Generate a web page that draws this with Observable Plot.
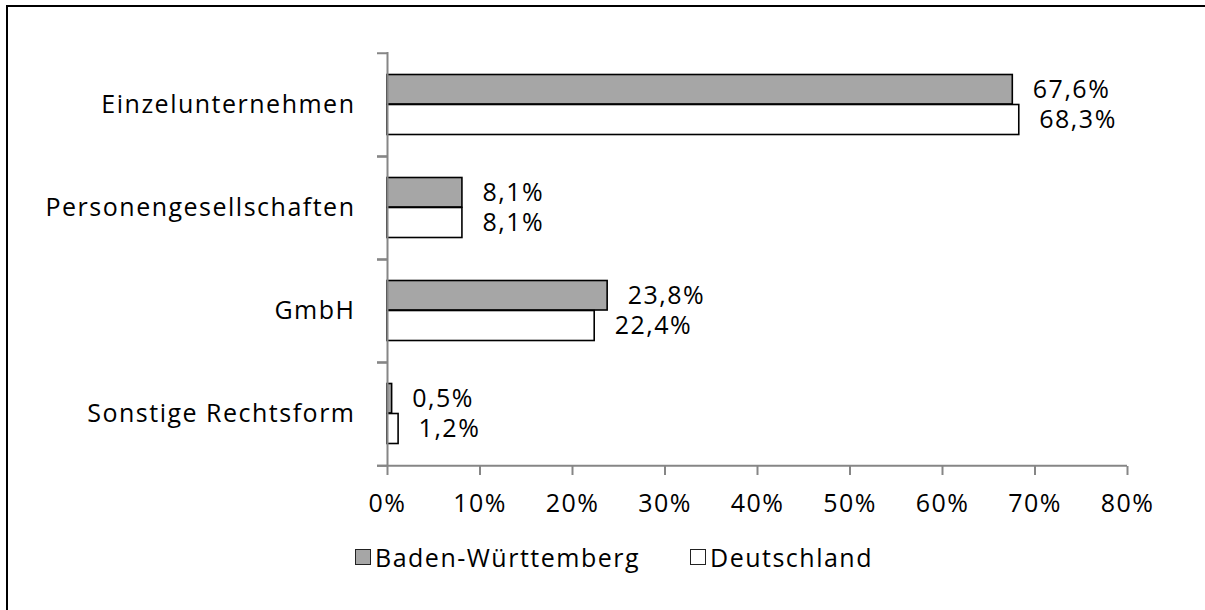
<!DOCTYPE html>
<html><head><meta charset="utf-8">
<script src="https://cdn.jsdelivr.net/npm/d3@7"></script>
<script src="https://cdn.jsdelivr.net/npm/@observablehq/plot@0.6"></script>
<style>
html,body{margin:0;background:#fff;font-family:"Open Sans",sans-serif;overflow:hidden;}
#wrap{position:relative;width:1205px;height:610px;overflow:hidden;background:#fff;}
#border{position:absolute;left:6px;top:5px;width:1300px;height:700px;border-left:2px solid #000;border-top:2px solid #000;}
#chart{position:absolute;left:0;top:0;}
#legend{position:absolute;top:542px;left:355px;display:flex;align-items:center;font-size:25px;letter-spacing:1.5px;line-height:30px;color:#000;font-weight:500;}
.item{display:flex;align-items:center;margin-right:50px;}
.sw{width:14px;height:14px;border:1.5px solid #222;margin-right:4px;box-sizing:content-box;}
</style></head>
<body><div id="wrap"><div id="border"></div><div id="chart"></div><div id="legend"></div></div>
<script>
const categories = ["Einzelunternehmen", "Personengesellschaften", "GmbH", "Sonstige Rechtsform"];
const series = ["Baden-Württemberg", "Deutschland"];
const bwValues = [67.6, 8.1, 23.8, 0.5];
const deValues = [68.3, 8.1, 22.4, 1.2];
const xTicks = [0, 10, 20, 30, 40, 50, 60, 70, 80];
const colors = ["#a6a6a6", "#ffffff"];

const bw = categories.map((c, i) => ({category: c, series: series[0], value: bwValues[i]}));
const de = categories.map((c, i) => ({category: c, series: series[1], value: deValues[i]}));
const fmt = v => v.toFixed(1).replace(".", ",") + "%";
const axisColor = "#868686";

const plot = Plot.plot({
  width: 1205,
  height: 520,
  marginTop: 52,
  marginBottom: 54,
  marginLeft: 387,
  marginRight: 78,
  style: {fontFamily: "Open Sans", fontSize: "25px", letterSpacing: "1.5px", fontWeight: 500, background: "transparent", color: "#000"},
  x: {domain: [0, 80], label: null},
  y: {domain: categories, padding: 0, label: null},
  marks: [
    Plot.barX(bw, {x: "value", y: "category", fill: colors[0], stroke: "#000", strokeWidth: 1.6, insetTop: 21.5, insetBottom: 52}),
    Plot.barX(de, {x: "value", y: "category", fill: colors[1], stroke: "#000", strokeWidth: 1.6, insetTop: 51.5, insetBottom: 21.5}),
    Plot.text(bw, {x: "value", y: "category", text: d => fmt(d.value), dx: 20, dy: -15, textAnchor: "start", fill: "#000"}),
    Plot.text(de, {x: "value", y: "category", text: d => fmt(d.value), dx: 20, dy: 15, textAnchor: "start", fill: "#000"}),
    Plot.ruleX([0], {stroke: axisColor, strokeWidth: 2}),
    Plot.ruleY([categories[categories.length - 1]], {dy: 51.75, stroke: axisColor, strokeWidth: 2, insetLeft: -10}),
    Plot.axisY({tickSize: 10, text: null, dy: -51.75, stroke: axisColor, strokeWidth: 2}),
    Plot.axisY({tickSize: 10, text: null, dy: 51.75, stroke: axisColor, strokeWidth: 2}),
    Plot.axisY({tickSize: 0, tickPadding: 32, fill: "#000", label: null}),
    Plot.axisX({ticks: xTicks, tickSize: 9, text: null, stroke: axisColor, strokeWidth: 2, label: null}),
    Plot.axisX({ticks: xTicks, tickSize: 0, tickPadding: 28, tickFormat: d => d + "%", fill: "#000", label: null})
  ]
});
document.getElementById("chart").appendChild(plot);

const legend = document.getElementById("legend");
series.forEach((s, i) => {
  const item = document.createElement("div");
  item.className = "item";
  const sw = document.createElement("div");
  sw.className = "sw";
  sw.style.background = colors[i];
  const t = document.createElement("span");
  t.textContent = s;
  item.appendChild(sw);
  item.appendChild(t);
  legend.appendChild(item);
});
</script>
</body></html>
